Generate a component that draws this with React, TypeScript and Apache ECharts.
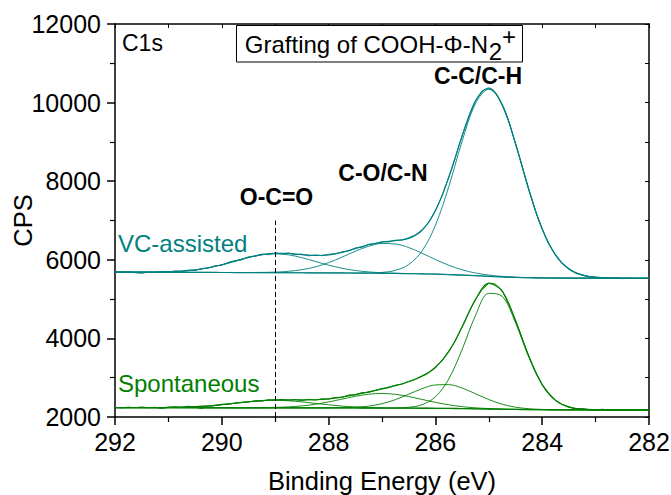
import { useEffect, useRef } from "react";
import * as echarts from "echarts";

// Binding energy grids (eV)
const energyGrid = [
  292, 291.75, 291.5, 291.25, 291, 290.75, 290.5, 290.25, 290, 289.75, 289.5,
  289.25, 289, 288.75, 288.5, 288.25, 288, 287.75, 287.5, 287.25, 287, 286.75,
  286.5, 286.25, 286, 285.75, 285.5, 285.25, 285, 284.75, 284.5, 284.25, 284,
  283.75, 283.5, 283.25, 283, 282.75, 282.5, 282.25, 282,
];
const energyRaw = [
  292, 291.875, 291.75, 291.625, 291.5, 291.375, 291.25, 291.125, 291, 290.875,
  290.75, 290.625, 290.5, 290.375, 290.25, 290.125, 290, 289.875, 289.75,
  289.625, 289.5, 289.375, 289.25, 289.125, 289, 288.875, 288.75, 288.625,
  288.5, 288.375, 288.25, 288.125, 288, 287.875, 287.75, 287.625, 287.5,
  287.375, 287.25, 287.125, 287, 286.875, 286.75, 286.625, 286.5, 286.375,
  286.25, 286.125, 286, 285.875, 285.75, 285.625, 285.5, 285.375, 285.25,
  285.125, 285, 284.875, 284.75, 284.625, 284.5, 284.375, 284.25, 284.125, 284,
  283.875, 283.75, 283.625, 283.5, 283.375, 283.25, 283.125, 283, 282.875,
  282.75, 282.625, 282.5, 282.375, 282.25, 282.125, 282,
];

// VC-assisted sample
const vcRaw = [
  5690, 5675, 5700, 5672, 5655, 5690, 5682, 5705, 5690, 5715, 5700, 5740, 5725,
  5780, 5790, 5850, 5860, 5935, 5980, 6000, 6075, 6090, 6145, 6130, 6175, 6150,
  6170, 6130, 6145, 6100, 6125, 6105, 6140, 6150, 6200, 6225, 6300, 6320, 6395,
  6410, 6460, 6455, 6500, 6500, 6560, 6630, 6760, 6950, 7260, 7620, 8110, 8600,
  9160, 9630, 10050, 10300, 10360, 10260, 9940, 9520, 8950, 8380, 7790, 7230,
  6790, 6390, 6130, 5900, 5780, 5660, 5620, 5570, 5560, 5545, 5525, 5540, 5520,
  5535, 5528, 5532, 5530,
];
const vcEnvelope = [
  5685, 5685, 5685, 5687, 5695, 5712, 5744, 5798, 5874, 5968, 6061, 6134, 6167,
  6161, 6133, 6110, 6125, 6187, 6284, 6383, 6451, 6486, 6545, 6751, 7249, 8096,
  9148, 10041, 10371, 9955, 8960, 7782, 6782, 6119, 5765, 5611, 5554, 5536,
  5532, 5530, 5530,
];
const vcOCO = [
  5685, 5685, 5685, 5687, 5695, 5712, 5744, 5798, 5874, 5967, 6059, 6128, 6152,
  6125, 6054, 5959, 5864, 5785, 5728, 5692, 5671, 5658, 5650, 5643, 5635, 5625,
  5612, 5596, 5580, 5565, 5553, 5545, 5539, 5536, 5534, 5533, 5532, 5531, 5531,
  5530, 5530,
];
const vcCO = [
  5685, 5684, 5683, 5682, 5681, 5680, 5679, 5678, 5677, 5677, 5677, 5680, 5687,
  5707, 5749, 5819, 5928, 6067, 6218, 6346, 6415, 6403, 6312, 6167, 6007, 5861,
  5746, 5664, 5611, 5578, 5558, 5547, 5540, 5536, 5534, 5533, 5532, 5531, 5531,
  5530, 5530,
];
const vcCC = [
  5685, 5684, 5683, 5682, 5681, 5680, 5679, 5678, 5677, 5676, 5675, 5674, 5672,
  5671, 5670, 5668, 5667, 5665, 5664, 5665, 5679, 5731, 5879, 6225, 6877, 7860,
  9014, 9973, 10340, 9942, 8955, 7780, 6781, 6119, 5765, 5611, 5554, 5536, 5532,
  5530, 5530,
];
const vcBaseline = [
  5685, 5684, 5683, 5682, 5681, 5680, 5679, 5678, 5677, 5676, 5675, 5674, 5672,
  5671, 5670, 5668, 5667, 5665, 5663, 5660, 5657, 5653, 5648, 5642, 5635, 5625,
  5612, 5596, 5580, 5565, 5553, 5545, 5539, 5536, 5534, 5533, 5532, 5531, 5531,
  5530, 5530,
];

// Spontaneous sample
const spRaw = [
  2245, 2232, 2250, 2238, 2255, 2235, 2248, 2215, 2250, 2262, 2240, 2275, 2250,
  2210, 2280, 2290, 2325, 2318, 2360, 2372, 2380, 2412, 2405, 2440, 2428, 2450,
  2425, 2445, 2420, 2450, 2430, 2462, 2455, 2500, 2498, 2560, 2565, 2620, 2625,
  2680, 2725, 2745, 2810, 2835, 2905, 2960, 3050, 3130, 3275, 3430, 3680, 3940,
  4300, 4660, 4990, 5240, 5410, 5380, 5220, 4860, 4460, 3990, 3550, 3150, 2830,
  2600, 2430, 2320, 2262, 2205, 2215, 2188, 2175, 2198, 2172, 2190, 2165, 2185,
  2178, 2170, 2195,
];
const spEnvelope = [
  2240, 2239, 2240, 2240, 2243, 2249, 2263, 2283, 2314, 2350, 2388, 2418, 2435,
  2437, 2435, 2439, 2463, 2508, 2570, 2639, 2714, 2797, 2898, 3035, 3261, 3663,
  4289, 4988, 5398, 5202, 4457, 3543, 2825, 2422, 2252, 2198, 2184, 2181, 2180,
  2180, 2180,
];
const spOCO = [
  2240, 2239, 2240, 2240, 2243, 2249, 2263, 2283, 2314, 2350, 2387, 2414, 2424,
  2413, 2385, 2347, 2310, 2278, 2256, 2241, 2233, 2229, 2226, 2223, 2221, 2218,
  2214, 2209, 2204, 2198, 2193, 2189, 2186, 2184, 2183, 2182, 2181, 2181, 2180,
  2180, 2180,
];
const spCO = [
  2240, 2239, 2239, 2238, 2238, 2237, 2237, 2236, 2236, 2235, 2236, 2238, 2245,
  2257, 2283, 2324, 2384, 2455, 2526, 2579, 2598, 2577, 2521, 2447, 2373, 2310,
  2264, 2233, 2215, 2202, 2194, 2189, 2186, 2184, 2183, 2182, 2181, 2181, 2180,
  2180, 2180,
];
const spCN = [
  2240, 2239, 2239, 2238, 2238, 2237, 2237, 2236, 2236, 2235, 2235, 2234, 2234,
  2233, 2233, 2232, 2233, 2237, 2248, 2277, 2338, 2441, 2579, 2721, 2816, 2823,
  2737, 2593, 2444, 2325, 2250, 2211, 2193, 2186, 2183, 2182, 2181, 2181, 2180,
  2180, 2180,
];
const spCC = [
  2240, 2239, 2239, 2238, 2238, 2237, 2237, 2236, 2236, 2235, 2235, 2234, 2234,
  2233, 2233, 2232, 2232, 2231, 2230, 2229, 2229, 2231, 2247, 2313, 2514, 2966,
  3716, 4580, 5147, 5071, 4399, 3521, 2818, 2420, 2252, 2198, 2184, 2181, 2180,
  2180, 2180,
];
const spBaseline = [
  2240, 2239, 2239, 2238, 2238, 2237, 2237, 2236, 2236, 2235, 2235, 2234, 2234,
  2233, 2233, 2232, 2232, 2231, 2230, 2229, 2228, 2227, 2225, 2223, 2221, 2218,
  2214, 2209, 2204, 2198, 2193, 2189, 2186, 2184, 2183, 2182, 2181, 2181, 2180,
  2180, 2180,
];

const dashedLineEnergy = 289;
const dashedLineRange = [2000, 7000];

const FONT = "'Liberation Sans', Arial, Helvetica, sans-serif";
const TEAL = "#008080";
const GREEN = "#008000";

function pairs(xs: number[], ys: number[]) {
  return xs.map((x, i) => [x, ys[i]]);
}

function curve(
  name: string,
  xs: number[],
  ys: number[],
  color: string,
  width: number,
  smooth: number | boolean,
  extra: any = {}
) {
  return {
    type: "line",
    name,
    data: pairs(xs, ys),
    symbol: "none",
    showSymbol: false,
    smooth,
    silent: true,
    lineStyle: { color, width },
    itemStyle: { color },
    ...extra,
  };
}

export default function App() {
  const ref = useRef<HTMLDivElement>(null);

  useEffect(() => {
    if (!ref.current) return;
    const chart = echarts.init(ref.current, null, { renderer: "svg" });
    const axisLineStyle = { color: "#000", width: 1.5 };
    const tickLabel = { fontSize: 25, color: "#000", fontFamily: FONT };
    const option: any = {
      animation: false,
      backgroundColor: "#fff",
      textStyle: { fontFamily: FONT },
      grid: {
        left: 115,
        right: 22,
        top: 24,
        bottom: 78,
        containLabel: false,
        outerBoundsMode: "none",
      },
      xAxis: [
        {
          type: "value",
          min: 282,
          max: 292,
          interval: 2,
          inverse: true,
          position: "bottom",
          axisLine: { show: true, onZero: false, lineStyle: axisLineStyle },
          axisTick: { show: true, length: 8, lineStyle: { color: "#000", width: 1.5 } },
          minorTick: { show: true, splitNumber: 2, length: 5, lineStyle: { color: "#000", width: 1.2 } },
          axisLabel: { ...tickLabel, margin: 12, hideOverlap: false },
          splitLine: { show: false },
          name: "Binding Energy (eV)",
          nameLocation: "middle",
          nameGap: 51,
          nameMoveOverlap: false,
          nameTextStyle: { fontSize: 25.5, color: "#000", fontFamily: FONT },
        },
        {
          type: "value",
          min: 282,
          max: 292,
          interval: 1,
          inverse: true,
          position: "top",
          axisLine: { show: true, onZero: false, lineStyle: axisLineStyle },
          axisTick: { show: true, inside: true, length: 4, lineStyle: { color: "#000", width: 1 } },
          axisLabel: { show: false },
          splitLine: { show: false },
        },
      ],
      yAxis: [
        {
          type: "value",
          min: 2000,
          max: 12000,
          interval: 2000,
          position: "left",
          axisLine: { show: true, onZero: false, lineStyle: axisLineStyle },
          axisTick: { show: true, length: 8, lineStyle: { color: "#000", width: 1.5 } },
          minorTick: { show: true, splitNumber: 2, length: 5, lineStyle: { color: "#000", width: 1.2 } },
          axisLabel: {
            ...tickLabel,
            margin: 14,
            hideOverlap: false,
            formatter: (v: number) => String(v),
          },
          splitLine: { show: false },
          name: "CPS",
          nameLocation: "middle",
          nameGap: 79,
          nameMoveOverlap: false,
          nameTextStyle: { fontSize: 25.5, color: "#000", fontFamily: FONT },
        },
        {
          type: "value",
          min: 2000,
          max: 12000,
          interval: 1000,
          position: "right",
          axisLine: { show: true, onZero: false, lineStyle: axisLineStyle },
          axisTick: { show: true, inside: true, length: 4, lineStyle: { color: "#000", width: 1 } },
          axisLabel: { show: false },
          splitLine: { show: false },
        },
      ],
      series: [
        curve("VC baseline", energyGrid, vcBaseline, TEAL, 1.2, 0.3),
        curve("VC O-C=O", energyGrid, vcOCO, TEAL, 0.9, 0.35),
        curve("VC C-O/C-N", energyGrid, vcCO, TEAL, 0.9, 0.35),
        curve("VC C-C/C-H", energyGrid, vcCC, TEAL, 0.9, 0.35),
        curve("VC envelope", energyGrid, vcEnvelope, TEAL, 1.2, 0.35),
        curve("VC raw", energyRaw, vcRaw, TEAL, 1, false, {
          markLine: {
            silent: true,
            symbol: "none",
            label: { show: false },
            lineStyle: { color: "#000", width: 1, type: [5, 3] },
            data: [
              [
                { coord: [dashedLineEnergy, dashedLineRange[0]] },
                { coord: [dashedLineEnergy, dashedLineRange[1]] },
              ],
            ],
          },
        }),
        curve("Sp baseline", energyGrid, spBaseline, GREEN, 1.3, 0.3),
        curve("Sp O-C=O", energyGrid, spOCO, GREEN, 0.9, 0.35),
        curve("Sp 287", energyGrid, spCO, GREEN, 0.9, 0.35),
        curve("Sp 285.9", energyGrid, spCN, GREEN, 0.9, 0.35),
        curve("Sp C-C/C-H", energyGrid, spCC, GREEN, 0.9, 0.35),
        curve("Sp envelope", energyGrid, spEnvelope, GREEN, 1.2, 0.35),
        curve("Sp raw", energyRaw, spRaw, GREEN, 1, false),
      ],
      graphic: [
        {
          type: "text",
          x: 122,
          y: 42.5,
          z: 100,
          style: { text: "C1s", fill: "#000", fontSize: 23, fontFamily: FONT, align: "left", verticalAlign: "middle" },
        },
        {
          type: "rect",
          z: 99,
          shape: { x: 236.5, y: 25.5, width: 286, height: 36.5 },
          style: { fill: "#fff", stroke: "#000", lineWidth: 1 },
        },
        {
          type: "text",
          x: 488,
          y: 44.3,
          z: 100,
          style: { text: "Grafting of COOH-Φ-N", fill: "#000", fontSize: 24, fontFamily: FONT, align: "right", verticalAlign: "middle" },
        },
        {
          type: "text",
          x: 495.5,
          y: 51.5,
          z: 100,
          style: { text: "2", fill: "#000", fontSize: 24, fontFamily: FONT, align: "center", verticalAlign: "middle" },
        },
        {
          type: "text",
          x: 509,
          y: 36.7,
          z: 100,
          style: { text: "+", fill: "#000", fontSize: 24, fontFamily: FONT, align: "center", verticalAlign: "middle" },
        },
        {
          type: "text",
          x: 478,
          y: 76.2,
          z: 100,
          style: { text: "C-C/C-H", fill: "#000", fontSize: 23, fontWeight: "bold", fontFamily: FONT, align: "center", verticalAlign: "middle" },
        },
        {
          type: "text",
          x: 383,
          y: 172.5,
          z: 100,
          style: { text: "C-O/C-N", fill: "#000", fontSize: 23, fontWeight: "bold", fontFamily: FONT, align: "center", verticalAlign: "middle" },
        },
        {
          type: "text",
          x: 276.5,
          y: 196.5,
          z: 100,
          style: { text: "O-C=O", fill: "#000", fontSize: 23, fontWeight: "bold", fontFamily: FONT, align: "center", verticalAlign: "middle" },
        },
        {
          type: "text",
          x: 118,
          y: 243.7,
          z: 100,
          style: { text: "VC-assisted", fill: TEAL, fontSize: 24, fontFamily: FONT, align: "left", verticalAlign: "middle" },
        },
        {
          type: "text",
          x: 118,
          y: 383.8,
          z: 100,
          style: { text: "Spontaneous", fill: GREEN, fontSize: 24, fontFamily: FONT, align: "left", verticalAlign: "middle" },
        },
      ],
    };
    chart.setOption(option);
    return () => chart.dispose();
  }, []);

  return (
    <div
      ref={ref}
      style={{ position: "fixed", left: 0, top: 0, width: 671, height: 495, background: "#fff" }}
    />
  );
}
